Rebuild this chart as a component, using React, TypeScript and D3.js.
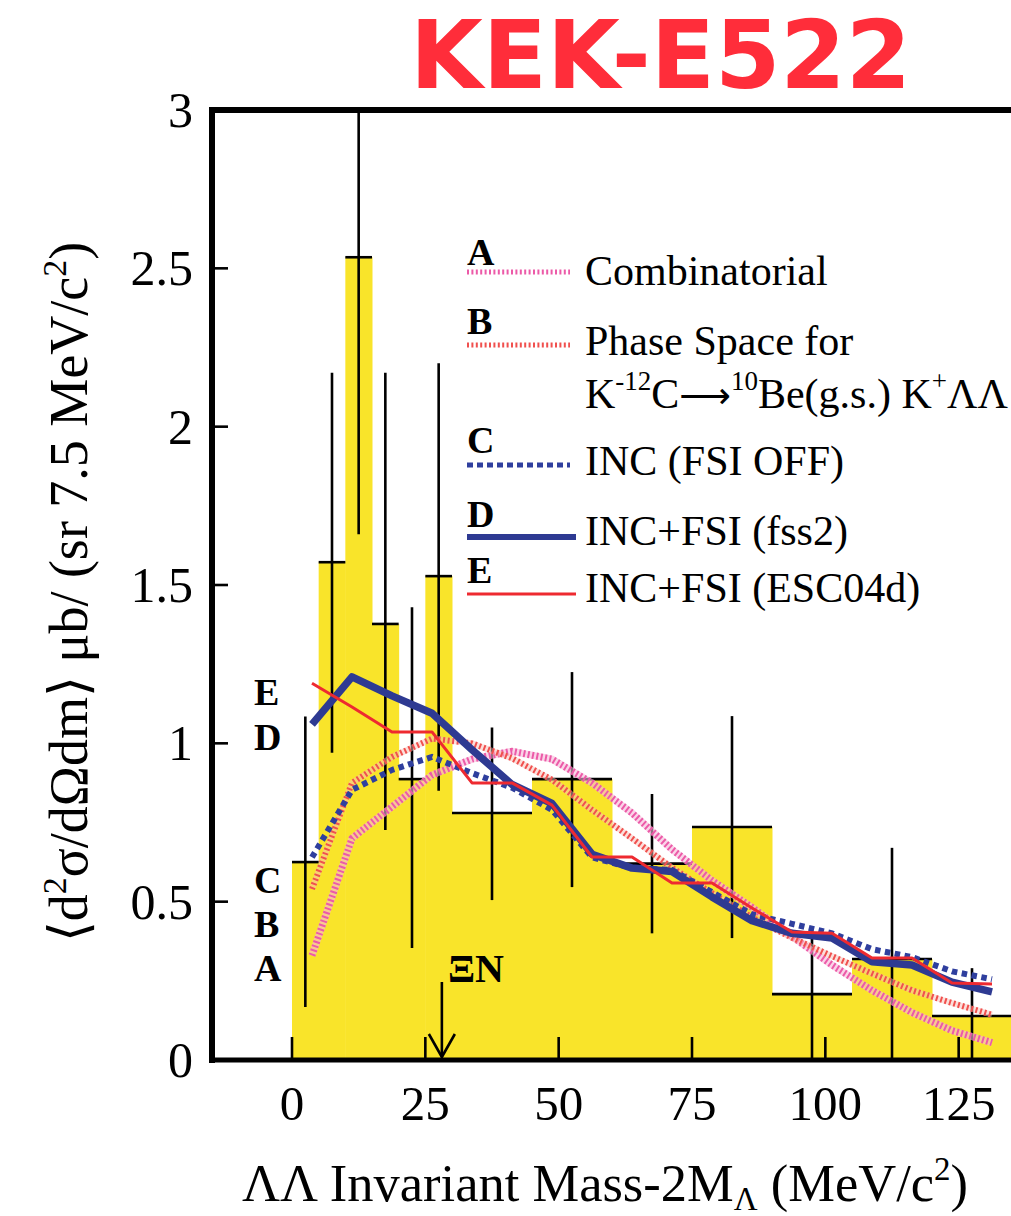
import React from 'react';
import * as d3 from 'd3';

const binEdges = [0, 5, 10, 15, 20, 25, 30, 45, 60, 75, 90, 105, 120, 135];
const binValues = [0.625, 1.572, 2.535, 1.377, 0.887, 1.528, 0.78, 0.887, 0.62, 0.736, 0.208, 0.319, 0.139];
const errLow = [0.167, 0.97, 1.66, 0.726, 0.354, 0.85, 0.505, 0.546, 0.4, 0.385, 0, 0, 0];
const errHigh = [1.085, 2.17, 3.3, 2.17, 1.43, 2.2, 1.05, 1.225, 0.84, 1.086, 0.417, 0.67, 0.29];

const modelMass = [3.75, 11.25, 18.75, 26.25, 33.75, 41.25, 48.75, 56.25, 63.75, 71.25, 78.75, 86.25, 93.75, 101.25, 108.75, 116.25, 123.75, 131.25];
const combinatorial = [0.33, 0.7, 0.8, 0.9, 0.95, 0.975, 0.95, 0.875, 0.78, 0.665, 0.567, 0.482, 0.39, 0.3, 0.22, 0.15, 0.093, 0.055];
const phaseSpace = [0.54, 0.875, 0.957, 1.015, 1.0, 0.953, 0.885, 0.79, 0.7, 0.607, 0.527, 0.45, 0.386, 0.328, 0.273, 0.22, 0.18, 0.143];
const incFsiOff = [0.64, 0.853, 0.916, 0.957, 0.906, 0.86, 0.79, 0.64, 0.606, 0.6, 0.53, 0.46, 0.43, 0.4, 0.35, 0.325, 0.28, 0.255];
const incFss2 = [1.06, 1.21, 1.15, 1.095, 0.98, 0.87, 0.81, 0.65, 0.606, 0.595, 0.515, 0.44, 0.4, 0.385, 0.31, 0.3, 0.246, 0.215];
const incEsc04d = [1.19, 1.115, 1.036, 1.036, 0.875, 0.875, 0.805, 0.641, 0.641, 0.559, 0.559, 0.48, 0.404, 0.4, 0.322, 0.322, 0.243, 0.24];

const xTicks = [0, 25, 50, 75, 100, 125];
const yTicks = [0, 0.5, 1, 1.5, 2, 2.5, 3];
const yTickLabels = ['0', '0.5', '1', '1.5', '2', '2.5', '3'];
const xiNThreshold = 28.1;

const SERIF = '"Liberation Serif", "Times New Roman", serif';
const YELLOW = '#f9e42a';
const PINK = '#ec5aa8';
const SALMON = '#f0504e';
const BLUE_DOT = '#2f3f9e';
const BLUE = '#2e3a92';
const RED = '#ee2a30';

export default function App() {
  const W = 1011;
  const H = 1216;
  const x = d3.scaleLinear().domain([-15, 135]).range([212, 1012]);
  const y = d3.scaleLinear().domain([0, 3]).range([1060, 110]);

  const line = d3
    .line<number>()
    .x((_, i) => x(modelMass[i]))
    .y((d) => y(d));

  const bins = binValues.map((v, i) => ({
    x0: binEdges[i],
    x1: binEdges[i + 1],
    v,
    lo: errLow[i],
    hi: Math.min(errHigh[i], 3),
  }));

  const legendX0 = 467;
  const legendX1 = 570;
  const legendTextX = 585;

  return (
    <svg
      width={W}
      height={H}
      viewBox={`0 0 ${W} ${H}`}
      style={{ position: 'absolute', left: 0, top: 0, background: '#fff' }}
    >
      <defs>
        <clipPath id="plot">
          <rect x={212} y={110} width={800} height={950} />
        </clipPath>
      </defs>

      <text
        x={410}
        y={88}
        fontFamily='"DejaVu Sans", sans-serif'
        fontWeight="bold"
        fontSize={94}
        fill="#ff2d3a"
      >
        KEK-E522
      </text>

      <g clipPath="url(#plot)">
        {bins.map((b, i) => (
          <rect
            key={'bar' + i}
            x={x(b.x0)}
            y={y(b.v)}
            width={x(b.x1) - x(b.x0) + 0.5}
            height={y(0) - y(b.v)}
            fill={YELLOW}
          />
        ))}
        {bins.map((b, i) => (
          <g key={'err' + i} stroke="#000" strokeWidth={2.6}>
            <line x1={x(b.x0)} x2={x(b.x1)} y1={y(b.v)} y2={y(b.v)} />
            <line
              x1={x((b.x0 + b.x1) / 2)}
              x2={x((b.x0 + b.x1) / 2)}
              y1={y(b.hi)}
              y2={y(b.lo)}
            />
          </g>
        ))}
      </g>

      {xTicks.map((t) => (
        <line key={'xt' + t} x1={x(t)} x2={x(t)} y1={1060} y2={1037} stroke="#000" strokeWidth={2.6} />
      ))}
      {yTicks.map((t) => (
        <line key={'yt' + t} x1={212} x2={228} y1={y(t)} y2={y(t)} stroke="#000" strokeWidth={2.6} />
      ))}

      <g clipPath="url(#plot)" fill="none">
        <path d={line(combinatorial) || ''} stroke="#f7b8d8" strokeWidth={7} opacity={0.6} />
        <path d={line(combinatorial) || ''} stroke={PINK} strokeWidth={7} strokeDasharray="2 2.4" />
        <path d={line(phaseSpace) || ''} stroke="#f7c0b8" strokeWidth={6} opacity={0.5} />
        <path d={line(phaseSpace) || ''} stroke={SALMON} strokeWidth={6} strokeDasharray="2 2.6" />
        <path d={line(incFsiOff) || ''} stroke={BLUE_DOT} strokeWidth={6} strokeDasharray="5.5 4.5" />
        <path d={line(incFss2) || ''} stroke={BLUE} strokeWidth={7.5} strokeLinejoin="round" />
        <path d={line(incEsc04d) || ''} stroke={RED} strokeWidth={3} strokeLinejoin="round" />
      </g>

      <line x1={209} x2={1011} y1={110} y2={110} stroke="#000" strokeWidth={6} />
      <line x1={212} x2={212} y1={107} y2={1063} stroke="#000" strokeWidth={6} />
      <line x1={209} x2={1011} y1={1060} y2={1060} stroke="#000" strokeWidth={5} />

      {xTicks.map((t) => (
        <text key={'xl' + t} x={x(t)} y={1120} textAnchor="middle" fontFamily={SERIF} fontSize={49} fill="#000">
          {t}
        </text>
      ))}
      {yTicks.map((t, i) => (
        <text key={'yl' + t} x={193} y={y(t) + 17} textAnchor="end" fontFamily={SERIF} fontSize={50} fill="#000">
          {yTickLabels[i]}
        </text>
      ))}

      <text x={605} y={1201} textAnchor="middle" fontFamily={SERIF} fontSize={52.5} fill="#000">
        ΛΛ Invariant Mass-2M
        <tspan fontSize={33} dy={9}>Λ</tspan>
        <tspan dy={-9}> (MeV/c</tspan>
        <tspan fontSize={33} dy={-21}>2</tspan>
        <tspan dy={21}>)</tspan>
      </text>
      <text
        transform="translate(87,592) rotate(-90)"
        textAnchor="middle"
        fontFamily={SERIF}
        fontSize={54}
        fill="#000"
      >
        ⟨d<tspan fontSize={34} dy={-21}>2</tspan>
        <tspan dy={21}>σ/dΩdm⟩  μb/ (sr 7.5 MeV/c</tspan>
        <tspan fontSize={34} dy={-21}>2</tspan>
        <tspan dy={21}>)</tspan>
      </text>

      <g fontFamily={SERIF} fontWeight="bold" fontSize={38} fill="#000">
        <text x={254} y={705}>E</text>
        <text x={254} y={750}>D</text>
        <text x={254} y={893}>C</text>
        <text x={254} y={937}>B</text>
        <text x={254} y={981}>A</text>
      </g>

      <text x={448} y={982} fontFamily={SERIF} fontWeight="bold" fontSize={40} fill="#000">
        ΞN
      </text>
      <g stroke="#000" strokeWidth={2.6} fill="none">
        <line x1={x(xiNThreshold)} x2={x(xiNThreshold)} y1={982} y2={1057} />
        <polyline
          points={`${x(xiNThreshold) - 13},${1034} ${x(xiNThreshold)},${1057} ${x(xiNThreshold) + 13},${1034}`}
        />
      </g>

      <g fontFamily={SERIF} fill="#000">
        <text x={legendX0} y={265} fontSize={38} fontWeight="bold">A</text>
        <line x1={legendX0} x2={legendX1} y1={272} y2={272} stroke={PINK} strokeWidth={5} strokeDasharray="2 2.4" />
        <text x={legendTextX} y={285} fontSize={42}>Combinatorial</text>

        <text x={legendX0} y={334} fontSize={38} fontWeight="bold">B</text>
        <line x1={legendX0} x2={legendX1} y1={345} y2={345} stroke={SALMON} strokeWidth={5} strokeDasharray="2 2.4" />
        <text x={legendTextX} y={355} fontSize={42}>Phase Space for</text>
        <text x={legendTextX} y={408} fontSize={42}>
          K<tspan fontSize={27} dy={-18}>-12</tspan>
          <tspan dy={18}>C</tspan>
          <tspan fontFamily='"DejaVu Sans", sans-serif' fontSize={36}>⟶</tspan>
          <tspan fontSize={27} dy={-18}>10</tspan>
          <tspan dy={18}>Be(g.s.) K</tspan>
          <tspan fontSize={27} dy={-18}>+</tspan>
          <tspan dy={18}>ΛΛ</tspan>
        </text>

        <text x={legendX0} y={453} fontSize={38} fontWeight="bold">C</text>
        <line x1={legendX0} x2={legendX1} y1={465} y2={465} stroke={BLUE_DOT} strokeWidth={5} strokeDasharray="6 4" />
        <text x={legendTextX} y={475} fontSize={42}>INC (FSI OFF)</text>

        <text x={legendX0} y={527} fontSize={38} fontWeight="bold">D</text>
        <line x1={legendX0} x2={legendX1 + 6} y1={537} y2={537} stroke={BLUE} strokeWidth={6} />
        <text x={legendTextX} y={545} fontSize={42}>INC+FSI (fss2)</text>

        <text x={legendX0} y={583} fontSize={38} fontWeight="bold">E</text>
        <line x1={legendX0} x2={legendX1 + 6} y1={594} y2={594} stroke={RED} strokeWidth={3} />
        <text x={legendTextX} y={602} fontSize={42}>INC+FSI (ESC04d)</text>
      </g>
    </svg>
  );
}
